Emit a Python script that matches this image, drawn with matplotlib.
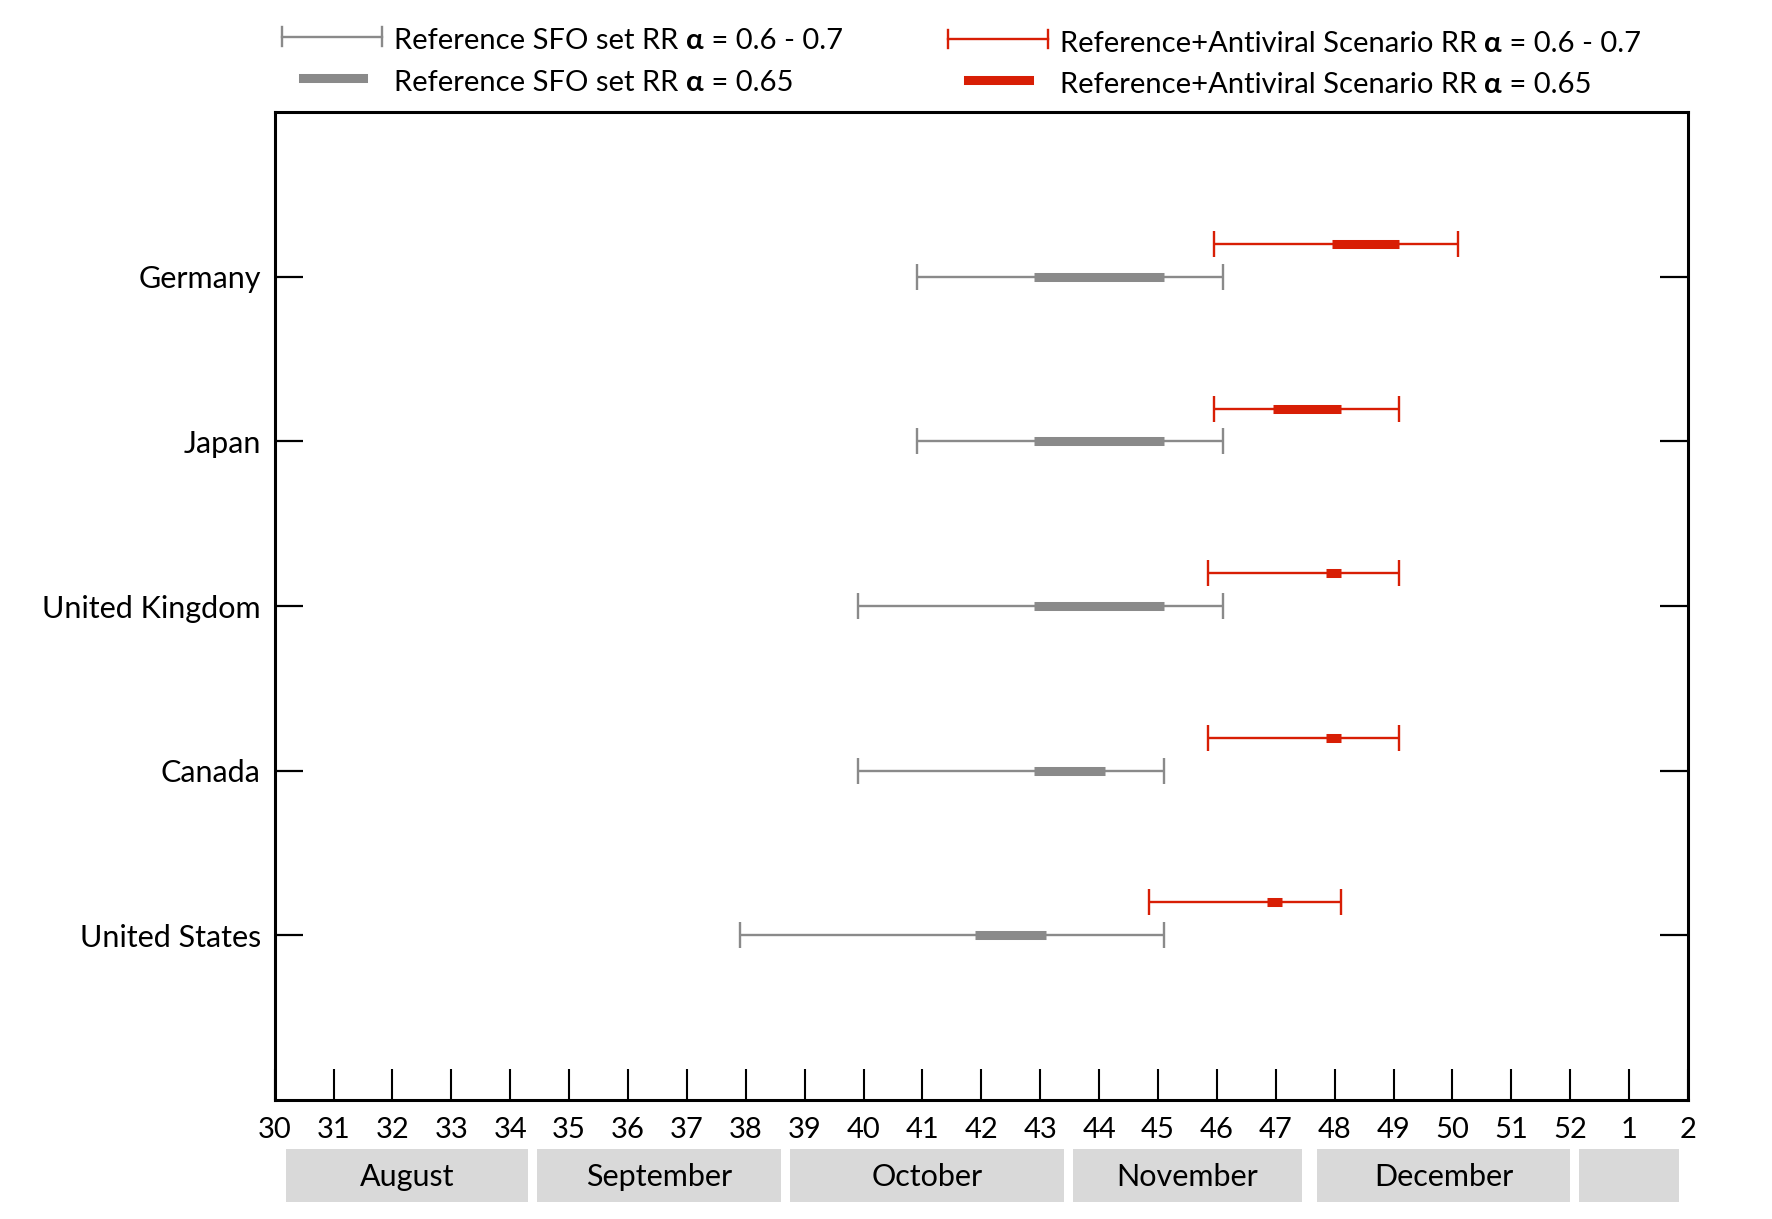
import matplotlib
matplotlib.use("Agg")
import matplotlib.pyplot as plt
from matplotlib.patches import Rectangle
from matplotlib.lines import Line2D

plt.rcParams['font.family'] = ['Lato', 'DejaVu Sans']

# Weeks of the year (30 .. 52, then 1, 2 of next year -> 53, 54)
countries = ["United States", "Canada", "United Kingdom", "Japan", "Germany"]

# Reference SFO set: range for alpha 0.6-0.7 and for alpha 0.65
ref_lo = [37.9, 39.9, 39.9, 40.9, 40.9]
ref_hi = [45.1, 45.1, 46.1, 46.1, 46.1]
ref_mid_lo = [41.9, 42.9, 42.9, 42.9, 42.9]
ref_mid_hi = [43.1, 44.1, 45.1, 45.1, 45.1]

# Reference + Antiviral scenario
av_lo = [44.85, 45.85, 45.85, 45.95, 45.95]
av_hi = [48.1, 49.1, 49.1, 49.1, 50.1]
av_mid_lo = [46.85, 47.85, 47.85, 46.95, 47.95]
av_mid_hi = [47.1, 48.1, 48.1, 48.1, 49.1]

week_ticks = list(range(30, 55))
week_labels = [str(w) for w in range(30, 53)] + ["1", "2"]

months = ["August", "September", "October", "November", "December", ""]
month_start = [30.2, 34.45, 38.75, 43.55, 47.7, 52.15]
month_end = [34.3, 38.6, 43.4, 47.45, 52.0, 53.85]

GRAY = "#8a8a8a"
RED = "#d81e05"

fig = plt.figure(figsize=(17.72, 12.19), dpi=100)
ax = fig.add_axes([0.155, 0.0976, 0.7976, 0.8104])

ypos = list(range(1, len(countries) + 1))
yred = [y + 0.2 for y in ypos]

# whiskers
ref_c = [(a + b) / 2 for a, b in zip(ref_lo, ref_hi)]
ref_e = [(b - a) / 2 for a, b in zip(ref_lo, ref_hi)]
av_c = [(a + b) / 2 for a, b in zip(av_lo, av_hi)]
av_e = [(b - a) / 2 for a, b in zip(av_lo, av_hi)]
ax.errorbar(ref_c, ypos, xerr=ref_e, fmt='none', ecolor=GRAY,
            elinewidth=1.7, capsize=9.5, capthick=1.7)
ax.errorbar(av_c, yred, xerr=av_e, fmt='none', ecolor=RED,
            elinewidth=1.7, capsize=9.5, capthick=1.7)
# thick central bars
ax.hlines(ypos, ref_mid_lo, ref_mid_hi, color=GRAY, lw=6.5)
ax.hlines(yred, av_mid_lo, av_mid_hi, color=RED, lw=6.5)

ax.set_xlim(30, 54)
ax.set_ylim(0, 6)
ax.set_xticks(week_ticks)
ax.set_xticklabels(week_labels)
ax.set_yticks(ypos)
ax.set_yticklabels(countries)

ax.tick_params(axis='x', direction='in', length=22, width=1.5, pad=12,
               labelsize=21, top=False)
ax.tick_params(axis='y', direction='in', length=20, width=1.6, pad=10,
               labelsize=22, left=True, right=True)
for sp in ax.spines.values():
    sp.set_linewidth(2.2)

# month boxes under the week numbers
xt = ax.get_xaxis_transform()
for name, a, b in zip(months, month_start, month_end):
    ax.add_patch(Rectangle((a, -0.103), b - a, 0.053, transform=xt,
                           facecolor="#d9d9d9", edgecolor='none', clip_on=False))
    ax.text((a + b) / 2, -0.0775, name, transform=xt, ha='center',
            va='center', fontsize=22)

# legend drawn by hand
def legend_entry(x0, x1, y, ty, color, thick, label_x, parts):
    if thick:
        fig.add_artist(Line2D([x0, x1], [y, y], color=color, lw=6.5))
    else:
        fig.add_artist(Line2D([x0, x1], [y, y], color=color, lw=1.7))
        for xc in (x0, x1):
            fig.add_artist(Line2D([xc, xc], [y - 0.0075, y + 0.0075],
                                  color=color, lw=1.7))
    t = fig.text(label_x, ty, parts[0], fontsize=21, va='center', ha='left')
    t = ax.annotate(parts[1], xy=(1, 0), xycoords=t, va='bottom', ha='left',
                    fontsize=21, fontweight='bold', annotation_clip=False)
    ax.annotate(parts[2], xy=(1, 0), xycoords=t, va='bottom', ha='left',
                fontsize=21, annotation_clip=False)

legend_entry(0.159, 0.2155, 0.970, 0.966, GRAY, False, 0.2225,
             ["Reference SFO set RR ", "α", " = 0.6 - 0.7"])
legend_entry(0.171, 0.205, 0.936, 0.932, GRAY, True, 0.2225,
             ["Reference SFO set RR ", "α", " = 0.65"])
legend_entry(0.535, 0.5915, 0.968, 0.964, RED, False, 0.598,
             ["Reference+Antiviral Scenario RR ", "α", " = 0.6 - 0.7"])
legend_entry(0.546, 0.5805, 0.934, 0.930, RED, True, 0.598,
             ["Reference+Antiviral Scenario RR ", "α", " = 0.65"])

fig.savefig("out.png", dpi=100)
